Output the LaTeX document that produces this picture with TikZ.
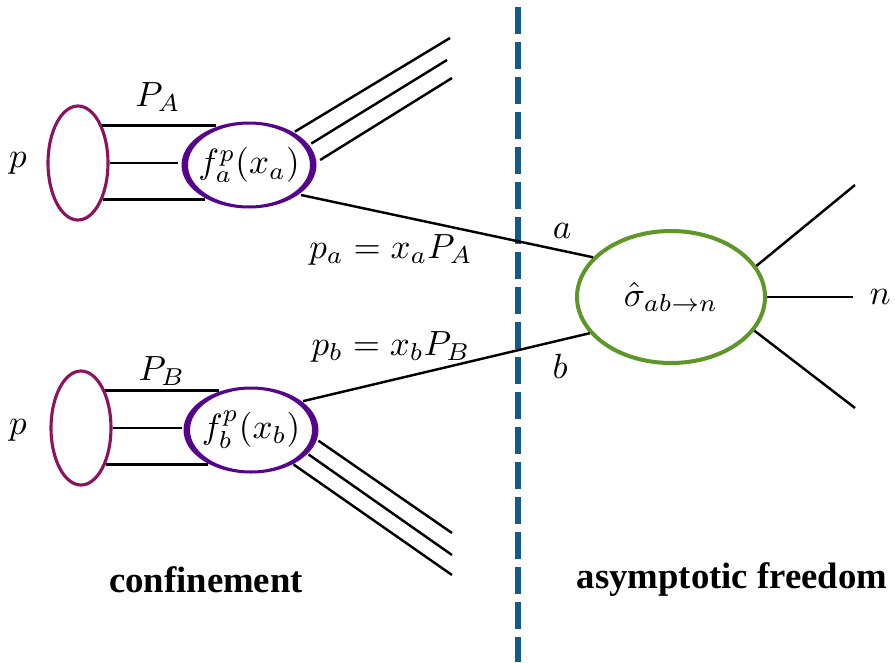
\documentclass[tikz,border=0pt]{standalone}
\usepackage{fontspec}
\newfontfamily\lblfont{Liberation Serif}
\usetikzlibrary{shapes.geometric}
\def\PX{0.2857pt}
\definecolor{pmaroon}{RGB}{140,20,95}
\definecolor{fpurple}{RGB}{85,5,140}
\definecolor{sgreen}{RGB}{95,150,40}
\definecolor{dblue}{RGB}{20,90,140}
\begin{document}
\begin{tikzpicture}[x=0.2857pt,y=-0.2857pt,
  pline/.style={black,line width=0.7pt},
  protonell/.style={ellipse,draw=pmaroon,line width=0.9pt,minimum width=60*\PX,minimum height=114*\PX,inner sep=0pt},
  pdfell/.style={ellipse,fill=white,minimum width=135*\PX,minimum height=87*\PX,inner sep=0pt,outer sep=0pt},
  sigell/.style={ellipse,draw=sgreen,line width=1.15pt,minimum width=188*\PX,minimum height=132*\PX,inner sep=0pt},
  ring/.style={fill=fpurple,even odd rule},
  dashline/.style={dblue,line width=1.75pt,dash pattern=on 7.7pt off 2.3pt},
  lbl/.style={inner sep=0pt},
  bigtxt/.style={inner sep=0pt,font=\lblfont\bfseries\fontsize{10.5}{12}\selectfont}]
\useasboundingbox (0,0) rectangle (895,662);

% divider
\coordinate (dtop) at (518,7);
\coordinate (dbot) at (518,662);
\draw[dashline] (dtop) -- (dbot);

% nodes
\node[protonell] (pA) at (78,163) {};
\node[protonell] (pB) at (81,428) {};
\node[pdfell] (fA) at (249,165) {$f_a^p(x_a)$};
\node[pdfell] (fB) at (251,430) {$f_b^p(x_b)$};
\fill[ring] (fA.center) ellipse [x radius=67.5*\PX,y radius=43.5*\PX]
            (fA.center) ellipse [x radius=61*\PX,y radius=40.5*\PX];
\fill[ring] (fB.center) ellipse [x radius=67.5*\PX,y radius=43.5*\PX]
            (fB.center) ellipse [x radius=61*\PX,y radius=40.5*\PX];
\node[sigell] (sig) at (671,297) {$\hat\sigma_{ab\to n}$};

% free ends
\coordinate (qa1) at (450,38);
\coordinate (qa2) at (447,60);
\coordinate (qa3) at (452,78);
\coordinate (qb1) at (452,533);
\coordinate (qb2) at (452,555);
\coordinate (qb3) at (452,575);
\coordinate (n1) at (855,185);
\coordinate (n2) at (853,297);
\coordinate (n3) at (855,408);

% proton to pdf lines
\draw[pline] (pA.57) -- (fA.130 |- pA.57);
\draw[pline] (pA.0) -- (fA.178 |- pA.0);
\draw[pline] (pA.-56) -- (fA.218 |- pA.-56);
\draw[pline] (pB.57) -- (fB.130 |- pB.57);
\draw[pline] (pB.0) -- (fB.178 |- pB.0);
\draw[pline] (pB.-56) -- (fB.218 |- pB.-56);

% spectator fans
\draw[pline] (fA.36) -- (qa1);
\draw[pline] (fA.19) -- (qa2);
\draw[pline] (fA.4) -- (qa3);
\draw[pline] (fB.-9) -- (qb1);
\draw[pline] (fB.-23) -- (qb2);
\draw[pline] (fB.-39) -- (qb3);

% partons into hard process
\draw[pline] (fA.-30) -- (sig.153);
\draw[pline] (fB.29) -- (sig.204);

% outgoing
\draw[pline] (sig.20) -- (n1);
\draw[pline] (sig.east) -- (n2);
\draw[pline] (sig.-22) -- (n3);

% labels
\node[lbl] (lpa) at (18,163) {$p$};
\node[lbl] (lpb) at (18,430) {$p$};
\node[lbl] (lPA) at (158,97) {$P_A$};
\node[lbl] (lPB) at (162,371) {$P_B$};
\node[lbl] (lxa) at (391,250) {$p_a = x_a P_A$};
\node[lbl] (lxb) at (391,347) {$p_b = x_b P_B$};
\node[lbl] (la) at (562,231) {$a$};
\node[lbl] (lb) at (560,366) {$b$};
\node[lbl] (ln) at (880,297) {$n$};
\node[bigtxt] (conf) at (206,580) {confinement};
\node[bigtxt] (asym) at (732,580) {asymptotic freedom};
\end{tikzpicture}
\end{document}
